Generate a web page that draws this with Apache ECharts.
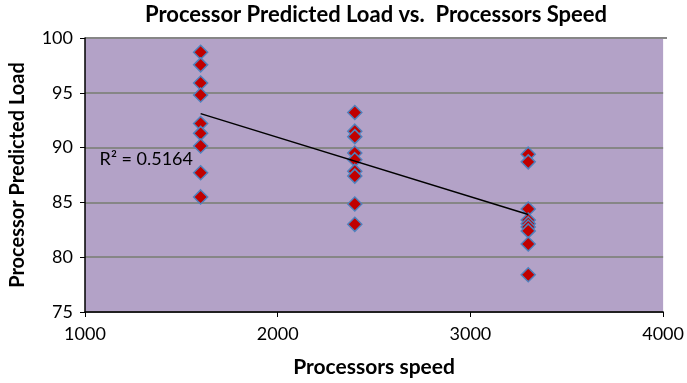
<!DOCTYPE html>
<html>
<head>
<meta charset="utf-8">
<script src="https://cdn.jsdelivr.net/npm/echarts@6/dist/echarts.min.js"></script>
<style>html,body{margin:0;padding:0;background:#fff}#c{width:687px;height:383px}</style>
</head>
<body>
<div id="c"></div>
<script>
// Data
const speeds = [1600, 2400, 3300];
const loads1600 = [98.7, 97.55, 95.9, 94.8, 92.2, 91.3, 90.15, 87.7, 85.5];
const loads2400 = [93.2, 91.5, 91.0, 89.5, 88.9, 87.85, 87.4, 84.85, 83.0];
const loads3300 = [89.4, 88.7, 84.4, 83.4, 83.05, 82.75, 82.4, 81.2, 78.4];
const trendX = [1600, 3300];
const trendY = [93.1, 83.9];
const r2Text = 'R² = 0.5164';
const xTicks = [1000, 2000, 3000, 4000];
const yTicks = [75, 80, 85, 90, 95, 100];

const groups = [loads1600, loads2400, loads3300];
const points = [];
groups.forEach((g, i) => g.forEach(v => points.push([speeds[i], v])));
const trend = trendX.map((x, i) => [x, trendY[i]]);

const FONT = 'Lato';
const chart = echarts.init(document.getElementById('c'), null, {renderer: 'canvas'});
chart.setOption({
  animation: false,
  textStyle: {fontFamily: FONT},
  grid: {left: 85, top: 38, right: 20, bottom: 70, show: true, backgroundColor: '#b3a2c7', borderWidth: 0},
  graphic: [
    {type: 'text', x: 376, y: 15, style: {text: 'Processor Predicted Load vs.  Processors Speed', font: 'bold 22px ' + FONT, fill: '#000', align: 'center', verticalAlign: 'middle'}},
    {type: 'text', x: 193, y: 159, style: {text: r2Text, font: '18px ' + FONT, fill: '#000', align: 'right', verticalAlign: 'middle'}},
    {type: 'line', shape: {x1: 85, y1: 38, x2: 667, y2: 38}, style: {stroke: '#868686', lineWidth: 2}}
  ],
  xAxis: {
    type: 'value', min: xTicks[0], max: xTicks[xTicks.length - 1], interval: 1000,
    name: 'Processors speed', nameLocation: 'middle', nameGap: 45,
    nameTextStyle: {fontFamily: FONT, fontWeight: 'bold', fontSize: 21, color: '#000'},
    axisLine: {show: true, onZero: false, lineStyle: {color: '#000', width: 1.5}},
    axisTick: {show: true, inside: false, length: 5, lineStyle: {color: '#000'}},
    axisLabel: {fontFamily: FONT, fontSize: 18, color: '#000', margin: 13, formatter: v => String(v)},
    splitLine: {show: false}
  },
  yAxis: {
    type: 'value', min: yTicks[0], max: yTicks[yTicks.length - 1], interval: 5,
    name: 'Processor Predicted Load', nameLocation: 'middle', nameGap: 57,
    nameTextStyle: {fontFamily: FONT, fontWeight: 'bold', fontSize: 20, color: '#000'},
    axisLine: {show: true, onZero: false, lineStyle: {color: '#000', width: 1.5}},
    axisTick: {show: true, inside: false, length: 5, lineStyle: {color: '#000'}},
    axisLabel: {fontFamily: FONT, fontSize: 18, color: '#000', margin: 12},
    splitLine: {show: true, lineStyle: {color: '#868686', width: 2}}
  },
  series: [
    {
      type: 'scatter', data: points, symbol: 'diamond', symbolSize: 14,
      itemStyle: {color: '#c00000', borderColor: '#4f81bd', borderWidth: 1.5, opacity: 1},
      z: 3
    },
    {
      type: 'line', data: trend, showSymbol: false, symbol: 'none',
      lineStyle: {color: '#000', width: 1.5}, z: 4, silent: true
    }
  ]
});
</script>
</body>
</html>
